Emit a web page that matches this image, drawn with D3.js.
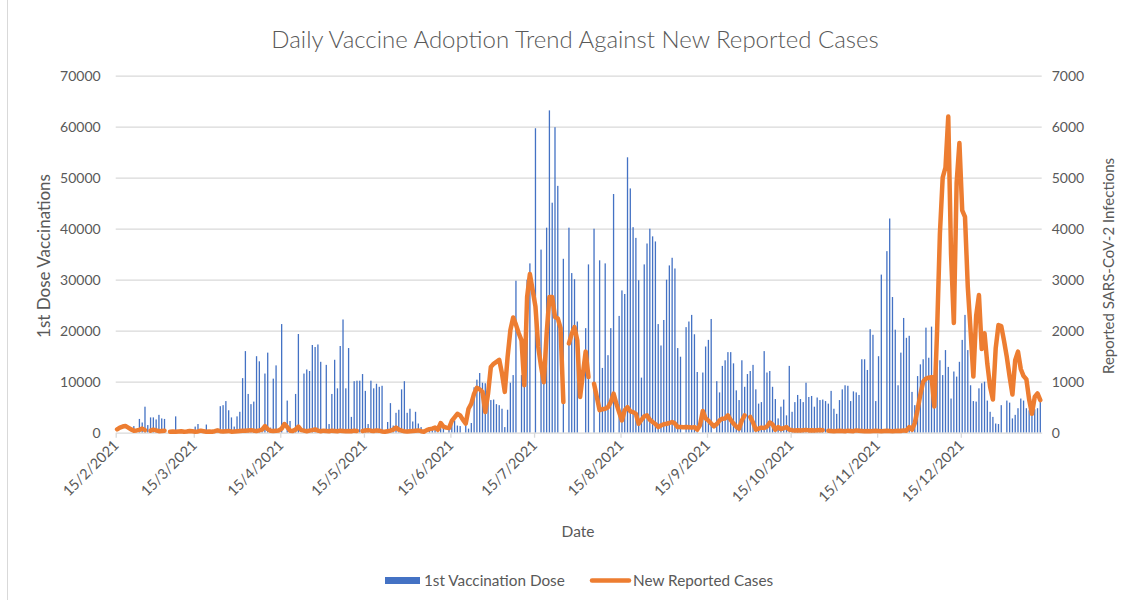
<!DOCTYPE html>
<html>
<head>
<meta charset="utf-8">
<script src="https://cdn.jsdelivr.net/npm/d3@7"></script>
<style>
  body { margin: 0; background: #fff; }
  svg { display: block; }
  text { font-family: Lato, "Open Sans", sans-serif; fill: #595959; }
</style>
</head>
<body>
<svg id="chart" width="1133" height="600"></svg>
<script>
// Daily series, one entry per day starting on startDate (null = no report that day)
const startDate = "2021-02-15";

const firstDoses = [
  null,null,null,null,null,null,1300,null,2700,2000,
  5100,1500,3000,3000,2600,3500,2800,2700,null,null,
  null,3200,null,null,null,null,null,null,1200,1700,
  null,null,1600,null,null,null,800,5200,5400,6200,
  4400,3000,1200,3200,4100,10700,16000,7600,5600,6100,
  15000,14000,300,11600,15700,1000,10600,13200,null,21300,
  null,6300,2300,null,7600,19350,null,11600,12400,12100,
  17200,16800,17300,13900,null,13300,1700,7600,14300,8700,
  17000,22200,8700,16600,3100,10100,10200,10200,11500,8200,
  1700,10200,8700,9600,9000,9200,null,2100,5800,1400,
  3900,4500,8500,10100,3900,4700,2200,4100,1800,1100,
  500,null,1100,800,1100,1400,1800,800,null,800,
  1800,2400,1400,1300,null,2100,800,1900,8900,10400,
  11700,9800,9700,9100,6400,6500,5600,5400,4700,1100,
  4500,9800,11300,29800,null,11300,9100,30000,33200,null,
  59700,null,35900,9700,40200,63200,45100,59900,48400,null,
  34100,null,40200,31300,30100,21800,null,null,20500,33000,
  null,40000,null,33800,12700,33200,15200,20500,46800,null,
  22900,27900,27200,54000,47900,40300,38200,29900,10800,33000,
  37100,40000,38500,37500,21300,17100,22100,30000,32800,34300,
  32200,16600,14900,null,20700,21800,23100,19300,11900,null,
  11800,16900,18200,22300,null,10100,7900,13100,14200,15800,
  15800,13600,8300,6400,14200,9000,11500,12100,13300,8500,
  5700,6000,16000,11800,12100,9000,6600,2800,5100,6500,
  3400,13100,4100,6000,7400,6600,6000,9800,7000,7200,
  5100,6900,6400,6500,6200,5700,8200,4700,3700,6400,
  8500,9300,9200,6200,8100,7900,7400,14400,14400,12300,
  20300,19200,6200,15000,31000,null,35600,42000,26600,20200,
  9300,15700,22500,18600,19000,8000,5400,11100,13400,14400,
  20600,14700,20800,5100,19600,14200,11300,16200,12900,6700,
  12000,11000,13900,18200,23100,16200,9300,6200,6100,8700,
  9700,10000,6300,4100,3100,1800,1700,5400,null,6300,
  5900,2800,3500,4800,6700,6300,4800,4400,3500,4600,4800,6700
];

const newCases = [
  65,100,120,130,100,65,40,45,55,80,
  50,null,40,60,45,30,35,40,null,20,
  25,20,25,30,20,25,35,30,20,25,
  40,30,20,25,20,30,45,30,25,30,
  35,20,25,30,35,40,40,45,50,40,
  35,45,60,130,70,40,35,40,45,80,
  170,110,40,35,60,120,50,40,30,40,
  50,65,40,30,40,35,30,40,35,30,
  40,35,30,35,30,40,35,null,35,45,
  50,40,35,45,40,25,20,30,40,60,
  100,60,40,30,25,30,35,40,45,30,
  20,50,70,80,100,60,190,120,100,90,
  230,300,370,340,250,180,470,570,765,880,
  850,800,405,765,1290,1350,1390,1430,1160,800,
  1480,2010,2260,2120,1950,1810,930,2660,3110,2790,
  2470,1680,1300,990,1940,2660,2660,2270,2240,2050,
  600,null,1750,1940,2070,1810,700,1150,1590,1090,
  null,960,700,440,460,470,500,600,765,570,
  400,240,440,500,420,405,370,175,250,320,
  340,255,210,170,110,140,165,175,190,210,
  180,110,110,105,110,105,100,110,60,150,
  425,280,240,180,125,170,240,275,280,340,
  250,180,120,80,240,340,null,310,200,60,
  80,100,90,120,200,165,60,110,70,90,
  110,60,50,45,50,45,50,55,45,50,
  45,50,55,50,null,40,35,30,35,40,
  35,30,40,35,30,45,40,35,30,35,
  30,35,40,35,30,35,40,35,30,35,
  40,35,45,40,110,60,190,450,750,1000,
  1060,1080,1090,515,2000,3900,5000,5200,6200,3500,
  2150,4900,5680,4360,4230,2860,2000,1100,2290,2700,
  1640,1950,1350,900,650,1650,2110,2090,1800,1480,
  1100,750,1420,1590,1250,1110,1050,650,370,700,770,640
];

const leftTicks = [0, 10000, 20000, 30000, 40000, 50000, 60000, 70000];
const rightTicks = [0, 1000, 2000, 3000, 4000, 5000, 6000, 7000];
const monthTicks = ["2021-02-15","2021-03-15","2021-04-15","2021-05-15","2021-06-15",
  "2021-07-15","2021-08-15","2021-09-15","2021-10-15","2021-11-15","2021-12-15"];
const seriesNames = ["1st Vaccination Dose", "New Reported Cases"];

const chartTitle = "Daily Vaccine Adoption Trend Against New Reported Cases";
const xTitle = "Date";
const yLeftTitle = "1st Dose Vaccinations";
const yRightTitle = "Reported SARS-CoV-2 Infections";

const BLUE = "#4472C4", ORANGE = "#ED7D31", GRID = "#d9d9d9";
const plot = { left: 115.7, right: 1041.7, top: 75.7, bottom: 432.7 };

const svg = d3.select("#chart");
const parse = d3.utcParse("%Y-%m-%d");
const t0 = parse(startDate);
const rows = firstDoses.map((v, i) => ({ date: d3.utcDay.offset(t0, i), dose: v, cases: newCases[i] }));
const centre = d => new Date(d.getTime() + 12 * 3600e3);

const x = d3.scaleUtc()
  .domain([t0, d3.utcDay.offset(t0, firstDoses.length)])
  .range([plot.left, plot.right]);
const yL = d3.scaleLinear().domain([0, 70000]).range([plot.bottom, plot.top]);
const yR = d3.scaleLinear().domain([0, 7000]).range([plot.bottom, plot.top]);

// chart frame edge
svg.append("line").attr("x1", 7.5).attr("x2", 7.5).attr("y1", 0).attr("y2", 600)
  .attr("stroke", GRID).attr("stroke-width", 1);

// left axis with gridlines
const gL = svg.append("g").attr("transform", `translate(${plot.left},0)`)
  .call(d3.axisLeft(yL).tickValues(leftTicks).tickFormat(d3.format("d"))
    .tickSize(-(plot.right - plot.left)).tickPadding(15));
gL.select(".domain").remove();
gL.selectAll(".tick line").attr("stroke", GRID).attr("stroke-width", 1.3)
  .filter(d => d === 0).remove();
gL.selectAll(".tick text").attr("font-size", 14).attr("fill", "#595959")
  .style("font-family", "Lato, sans-serif");

// right axis
const gR = svg.append("g").attr("transform", `translate(${plot.right},0)`)
  .call(d3.axisRight(yR).tickValues(rightTicks).tickFormat(d3.format("d"))
    .tickSize(0).tickPadding(10));
gR.select(".domain").remove();
gR.selectAll(".tick text").attr("font-size", 14).attr("fill", "#595959")
  .style("font-family", "Lato, sans-serif");

// bars
svg.append("g").selectAll("rect")
  .data(rows.filter(d => d.dose != null))
  .join("rect")
  .attr("x", d => x(centre(d.date)) - 0.65)
  .attr("width", 1.3)
  .attr("y", d => yL(d.dose))
  .attr("height", d => yL(0) - yL(d.dose))
  .attr("fill", BLUE);

// x axis
const gX = svg.append("g").attr("transform", `translate(0,${plot.bottom})`)
  .call(d3.axisBottom(x).tickValues(monthTicks.map(parse))
    .tickFormat(d3.utcFormat("%-d/%-m/%Y")).tickSize(5).tickSizeOuter(0));
gX.select(".domain").attr("stroke", GRID).attr("stroke-width", 1.3);
gX.selectAll(".tick line").attr("stroke", GRID).attr("stroke-width", 1.3);
gX.selectAll(".tick text")
  .attr("font-size", 14.5).attr("fill", "#595959").style("font-family", "Lato, sans-serif")
  .attr("text-anchor", "end")
  .attr("x", -7).attr("y", 7).attr("dy", "0.35em")
  .attr("transform", "rotate(-45)");

// cases line
const line = d3.line()
  .defined(d => d.cases != null)
  .x(d => x(centre(d.date)))
  .y(d => yR(d.cases));
svg.append("path").datum(rows).attr("d", line)
  .attr("fill", "none").attr("stroke", ORANGE).attr("stroke-width", 4.5)
  .attr("stroke-linejoin", "round").attr("stroke-linecap", "round");

// titles
svg.append("text").attr("x", 575).attr("y", 48).attr("text-anchor", "middle")
  .attr("font-size", 24).attr("font-weight", 300).text(chartTitle);
svg.append("text").attr("x", 578).attr("y", 537).attr("text-anchor", "middle")
  .attr("font-size", 15.5).text(xTitle);
svg.append("text").attr("transform", "translate(49.5,256) rotate(-90)")
  .attr("text-anchor", "middle").attr("font-size", 17).text(yLeftTitle);
svg.append("text").attr("transform", "translate(1113.5,266) rotate(-90)")
  .attr("text-anchor", "middle").attr("font-size", 15).text(yRightTitle);

// legend
const lg = svg.append("g");
lg.append("rect").attr("x", 385).attr("y", 577).attr("width", 35).attr("height", 7).attr("fill", BLUE);
lg.append("text").attr("x", 424).attr("y", 585.5).attr("font-size", 15.3).text(seriesNames[0]);
lg.append("line").attr("x1", 592).attr("x2", 629).attr("y1", 580.5).attr("y2", 580.5)
  .attr("stroke", ORANGE).attr("stroke-width", 4.5).attr("stroke-linecap", "round");
lg.append("text").attr("x", 633).attr("y", 585.5).attr("font-size", 15.3).text(seriesNames[1]);
</script>
</body>
</html>
